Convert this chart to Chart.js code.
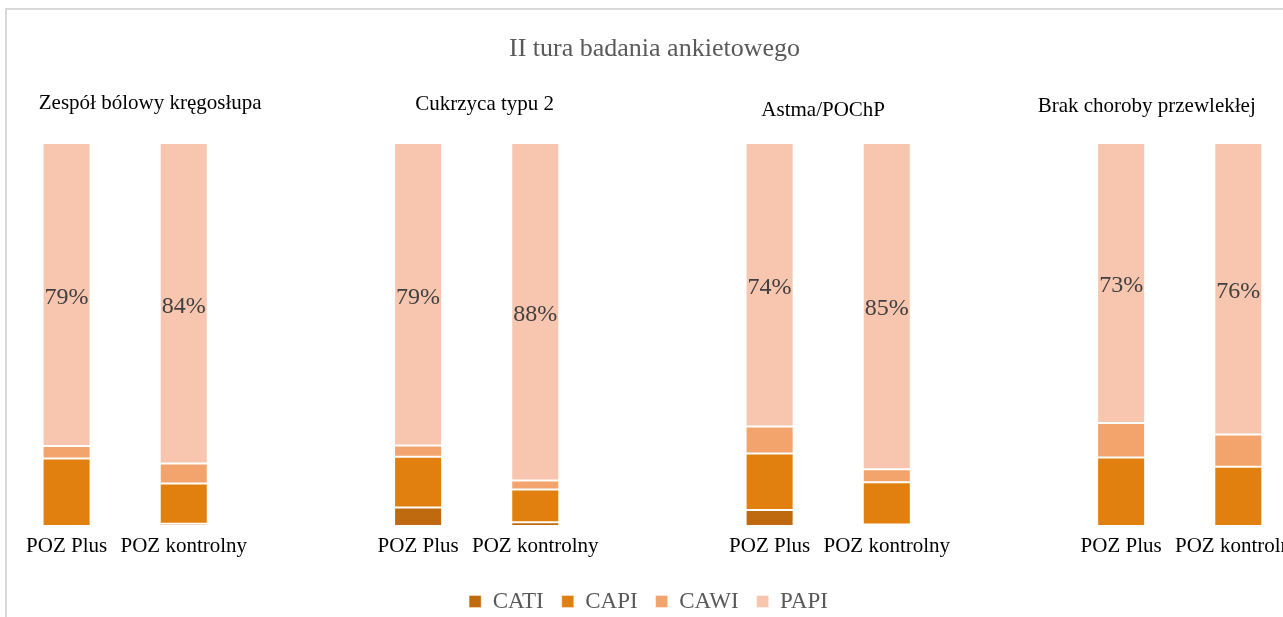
<!DOCTYPE html>
<html><head><meta charset="utf-8">
<script src="https://cdn.jsdelivr.net/npm/chart.js@4.4.1/dist/chart.umd.min.js"></script>
<style>
html,body{margin:0;padding:0;background:#fff;overflow:hidden;width:1283px;height:617px;}
#frame{position:absolute;left:5px;top:8px;width:1400px;height:700px;border-left:2px solid #d9d9d9;border-top:2px solid #d9d9d9;box-sizing:border-box;}
#wrap{position:absolute;left:0;top:0;width:1310px;height:630px;}
</style></head><body>
<div id="frame"></div>
<div id="wrap"><canvas id="c" width="1310" height="630"></canvas></div>
<script>
// ---- data ----
const groupTitles = ['Zespół bólowy kręgosłupa', 'Cukrzyca typu 2', 'Astma/POChP', 'Brak choroby przewlekłej'];
const barLabels = ['POZ Plus', 'POZ kontrolny'];
const seriesNames = ['CATI', 'CAPI', 'CAWI', 'PAPI'];
// order: [g1 Plus, g1 kontrolny, g2 Plus, g2 kontrolny, g3 Plus, g3 kontrolny, g4 Plus, g4 kontrolny]
const cati = [0, 0.6, 4.8, 1.0, 4.2, 0.4, 0, 0];
const capi = [17.6, 10.5, 13.3, 8.5, 14.7, 11.0, 17.9, 15.5];
const cawi = [3.3, 5.2, 2.9, 2.4, 7.1, 3.4, 9.0, 8.4];
const papi = [79.1, 83.7, 79.0, 88.1, 74.0, 85.2, 73.1, 76.1];

// ---- layout / style ----
const colors = ['#BF6A0E', '#E2800F', '#F3A36C', '#F8C6AF'];
const titleShift = [25, 8, -5, -33];
const titleY = [103, 104, 110, 106];
const FONT = "'Liberation Serif', 'Times New Roman', serif";

// Build 11-slot category axis (empty slot between groups)
const labels = [];
const slotIndex = [];
groupTitles.forEach((g, gi) => {
  barLabels.forEach(b => { slotIndex.push(labels.length); labels.push(b); });
  if (gi < groupTitles.length - 1) labels.push('');
});
function spread(arr) {
  const out = new Array(labels.length).fill(null);
  arr.forEach((v, i) => { out[slotIndex[i]] = v; });
  return out;
}
const seriesData = [cati, capi, cawi, papi];

const groupTitlePlugin = {
  id: 'groupTitles',
  afterLayout(chart) {
    if (chart.legend) { chart.legend.left -= 6; chart.legend.right -= 6; }
  },
  afterDraw(chart) {
    const xs = chart.scales.x, ctx = chart.ctx;
    ctx.save();
    ctx.font = '21px ' + FONT;
    ctx.fillStyle = '#000000';
    ctx.textAlign = 'center';
    ctx.textBaseline = 'middle';
    groupTitles.forEach((t, g) => {
      const cx = (xs.getPixelForValue(g * 3) + xs.getPixelForValue(g * 3 + 1)) / 2 + titleShift[g];
      ctx.fillText(t, cx, titleY[g]);
    });
    ctx.restore();
  }
};

const papiLabelPlugin = {
  id: 'papiLabels',
  afterDatasetsDraw(chart) {
    const ctx = chart.ctx;
    const meta = chart.getDatasetMeta(3);
    const ds = chart.data.datasets[3].data;
    ctx.save();
    ctx.font = '24px ' + FONT;
    ctx.fillStyle = '#404040';
    ctx.textAlign = 'center';
    ctx.textBaseline = 'middle';
    meta.data.forEach((el, i) => {
      if (ds[i] == null) return;
      const cy = (el.y + el.base) / 2 + 3;
      ctx.fillText(Math.round(ds[i]) + '%', el.x, cy);
    });
    ctx.restore();
  }
};

new Chart(document.getElementById('c'), {
  type: 'bar',
  data: {
    labels: labels,
    datasets: seriesNames.map((n, i) => ({
      label: n,
      data: spread(seriesData[i]),
      backgroundColor: colors[i],
      borderColor: 'rgba(255,255,255,0.35)',
      borderWidth: 1,
      borderSkipped: false,
      categoryPercentage: 1.0,
      barPercentage: 0.41
    }))
  },
  options: {
    responsive: false,
    animation: false,
    layout: { padding: { left: 8, right: 9, top: 0, bottom: 7 } },
    scales: {
      x: {
        stacked: true,
        grid: { display: false, drawTicks: false },
        border: { display: false },
        ticks: { font: { size: 21, family: FONT }, color: '#000000', padding: 8, maxRotation: 0, minRotation: 0, autoSkip: false },
        afterFit(s) { s.height += 4.8; }
      },
      y: { stacked: true, display: false, min: 0, max: 100 }
    },
    plugins: {
      title: {
        display: true,
        text: 'II tura badania ankietowego',
        color: '#595959',
        font: { size: 26, family: FONT, weight: 'normal' },
        padding: { top: 34, bottom: 77.8 }
      },
      legend: {
        position: 'bottom',
        labels: { font: { size: 23, family: FONT }, color: '#595959', boxWidth: 12, boxHeight: 12, padding: 18 }
      },
      tooltip: { enabled: false }
    }
  },
  plugins: [groupTitlePlugin, papiLabelPlugin]
});
</script>
</body></html>
